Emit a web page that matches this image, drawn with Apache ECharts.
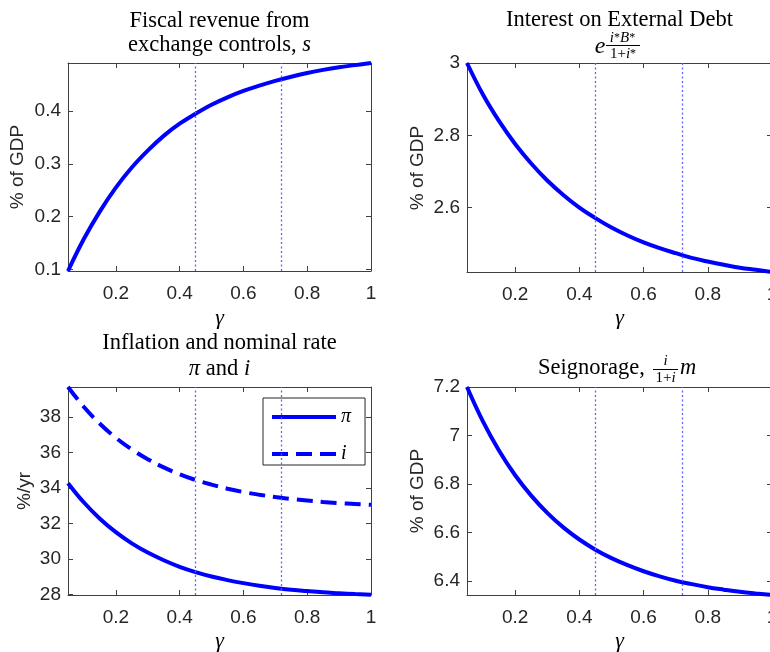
<!DOCTYPE html>
<html>
<head>
<meta charset="utf-8">
<script src="https://cdn.jsdelivr.net/npm/echarts@6/dist/echarts.min.js"></script>
<style>html,body{margin:0;padding:0;background:#fff;}#c{width:770px;height:652px;}</style>
</head>
<body>
<div id="c"></div>
<script>
// ---- data ----
const gamma = [0.05,0.10,0.15,0.20,0.25,0.30,0.35,0.40,0.45,0.50,0.55,0.60,0.65,0.70,0.75,0.80,0.85,0.90,0.95,1.00];
const fiscalRevenue = [0.097,0.158,0.210,0.255,0.293,0.325,0.353,0.376,0.395,0.412,0.426,0.438,0.448,0.457,0.465,0.472,0.478,0.483,0.487,0.491];
const interestDebt = [3.000,2.912,2.839,2.776,2.722,2.675,2.635,2.600,2.571,2.545,2.523,2.504,2.488,2.474,2.461,2.451,2.442,2.434,2.428,2.422];
const inflation = [34.27,33.18,32.27,31.51,30.88,30.36,29.93,29.56,29.26,29.01,28.81,28.64,28.49,28.37,28.27,28.19,28.12,28.07,28.02,27.98];
const nominalRate = [39.69,38.56,37.62,36.83,36.17,35.62,35.16,34.77,34.45,34.19,33.96,33.77,33.62,33.49,33.38,33.29,33.21,33.15,33.10,33.05];
const seigniorage = [7.200,7.057,6.937,6.836,6.752,6.681,6.621,6.571,6.529,6.494,6.465,6.440,6.419,6.401,6.387,6.374,6.364,6.355,6.348,6.342];
const xTicks = [0.2,0.4,0.6,0.8,1];
const yTicksFiscal = [0.1,0.2,0.3,0.4];
const yTicksInterest = [2.6,2.8,3];
const yTicksRates = [28,30,32,34,36,38];
const yTicksSeign = [6.4,6.6,6.8,7,7.2];
const markerGammas = [0.45,0.72];
const yRanges = [[0.097,0.491],[2.422,3.0],[27.97,39.69],[6.342,7.2]];

const AX = '#404040';
const BLUE = '#0000ff';
const SANS = 'Liberation Sans';
const SERIF = 'Liberation Serif';

const grids = [
  {left:68, top:63, width:303, height:208},
  {left:467, top:63, width:305, height:209},
  {left:68, top:387, width:303, height:208},
  {left:467, top:387, width:305, height:208}
];
const yTickSets = [yTicksFiscal, yTicksInterest, yTicksRates, yTicksSeign];

const xAxes = [], yAxes = [];
grids.forEach((g, k) => {
  const baseX = {
    type:'value', gridIndex:k, min:0.05, max:1,
    axisLine:{show:true, onZero:false, lineStyle:{color:AX, width:1}},
    splitLine:{show:false}
  };
  xAxes.push(Object.assign({}, baseX, {
    position:'bottom',
    axisTick:{show:true, inside:true, length:5, customValues:xTicks, lineStyle:{color:AX}},
    axisLabel:{show:true, customValues:xTicks, margin:13, fontFamily:SANS, fontSize:19, color:'#262626', hideOverlap:false}
  }));
  xAxes.push(Object.assign({}, baseX, {
    position:'top',
    axisTick:{show:true, inside:true, length:5, customValues:xTicks, lineStyle:{color:AX}},
    axisLabel:{show:false}
  }));
  const baseY = {
    type:'value', gridIndex:k, min:yRanges[k][0], max:yRanges[k][1],
    axisLine:{show:true, onZero:false, lineStyle:{color:AX, width:1}},
    splitLine:{show:false}
  };
  yAxes.push(Object.assign({}, baseY, {
    position:'left',
    axisTick:{show:true, inside:true, length:5, customValues:yTickSets[k], lineStyle:{color:AX}},
    axisLabel:{show:true, customValues:yTickSets[k], margin:7, fontFamily:SANS, fontSize:19, color:'#262626'}
  }));
  yAxes.push(Object.assign({}, baseY, {
    position:'right',
    axisTick:{show:true, inside:true, length:5, customValues:yTickSets[k], lineStyle:{color:AX}},
    axisLabel:{show:false}
  }));
});

function pairs(arr){ return gamma.map((g,i)=>[g, arr[i]]); }
function marks(){
  return {
    silent:true, symbol:['none','none'], label:{show:false},
    lineStyle:{color:'#6262ff', width:1.3, type:[2,2.5], opacity:1},
    data: markerGammas.map(v=>({xAxis:v}))
  };
}
function lineSeries(k, name, arr, dashed){
  return {
    type:'line', name:name, xAxisIndex:2*k, yAxisIndex:2*k,
    data:pairs(arr), showSymbol:false, symbol:'none', smooth:0.4,
    lineStyle:{color:BLUE, width:4, type: dashed ? [16,8] : 'solid', cap:'butt'},
    itemStyle:{color:BLUE},
    markLine: marks(), z:3, animation:false
  };
}

const series = [
  lineSeries(0, 's', fiscalRevenue, false),
  lineSeries(1, 'debt', interestDebt, false),
  lineSeries(2, 'π', inflation, false),
  Object.assign(lineSeries(2, 'i', nominalRate, true), {markLine:undefined}),
  lineSeries(3, 'seign', seigniorage, false)
];

function txt(x, y, text, opts){
  return {type:'text', x:x, y:y, silent:true,
    style:Object.assign({text:text, fill:'#000', fontFamily:SERIF, fontSize:22.5, align:'center', verticalAlign:'middle'}, opts||{})};
}
function hline(x1, x2, y){
  return {type:'line', silent:true, shape:{x1:x1, y1:y, x2:x2, y2:y}, style:{stroke:'#000', lineWidth:1}};
}

const graphic = [
  // titles
  txt(219.5, 21, 'Fiscal revenue from'),
  {type:'text', x:219.5, y:45, silent:true, style:{text:'{n|exchange controls, }{i|s}', align:'center', verticalAlign:'middle', fill:'#000',
    rich:{n:{fontFamily:SERIF, fontSize:22.5}, i:{fontFamily:SERIF, fontSize:22.5, fontStyle:'italic'}}}},
  txt(619.5, 20, 'Interest on External Debt'),
  txt(600, 47, 'e', {fontStyle:'italic', fontSize:24}),
  {type:'text', x:622.5, y:38, silent:true, style:{text:'{i|i}{s|*}{i|B}{s|*}', align:'center', verticalAlign:'middle', fill:'#000',
    rich:{i:{fontFamily:SERIF, fontSize:15, fontStyle:'italic'}, s:{fontFamily:SERIF, fontSize:12}}}},
  hline(606, 640, 45.5),
  {type:'text', x:623, y:54, silent:true, style:{text:'{n|1+}{i|i}{s|*}', align:'center', verticalAlign:'middle', fill:'#000',
    rich:{n:{fontFamily:SERIF, fontSize:15}, i:{fontFamily:SERIF, fontSize:15, fontStyle:'italic'}, s:{fontFamily:SERIF, fontSize:12}}}},
  txt(219.5, 343, 'Inflation and nominal rate'),
  {type:'text', x:219.5, y:369, silent:true, style:{text:'{i|π}{n| and }{i|i}', align:'center', verticalAlign:'middle', fill:'#000',
    rich:{n:{fontFamily:SERIF, fontSize:22.5}, i:{fontFamily:SERIF, fontSize:22.5, fontStyle:'italic'}}}},
  txt(538, 368, 'Seignorage,', {align:'left'}),
  txt(665.5, 361, 'i', {fontStyle:'italic', fontSize:15}),
  hline(653, 678, 369.5),
  {type:'text', x:665.5, y:378, silent:true, style:{text:'{n|1+}{i|i}', align:'center', verticalAlign:'middle', fill:'#000',
    rich:{n:{fontFamily:SERIF, fontSize:15}, i:{fontFamily:SERIF, fontSize:15, fontStyle:'italic'}}}},
  txt(680, 368, 'm', {align:'left', fontStyle:'italic'}),
  // x-axis names
  txt(219.5, 318, 'γ', {fontStyle:'italic', fontSize:22}),
  txt(619.5, 318, 'γ', {fontStyle:'italic', fontSize:22}),
  txt(219.5, 641, 'γ', {fontStyle:'italic', fontSize:22}),
  txt(619.5, 641, 'γ', {fontStyle:'italic', fontSize:22}),
  // y-axis names
  {type:'text', x:18, y:167, rotation:Math.PI/2, silent:true, style:{text:'% of GDP', fontFamily:SANS, fontSize:19, fill:'#262626', align:'center', verticalAlign:'middle'}},
  {type:'text', x:418, y:168, rotation:Math.PI/2, silent:true, style:{text:'% of GDP', fontFamily:SANS, fontSize:19, fill:'#262626', align:'center', verticalAlign:'middle'}},
  {type:'text', x:25, y:491, rotation:Math.PI/2, silent:true, style:{text:'%/yr', fontFamily:SANS, fontSize:19, fill:'#262626', align:'center', verticalAlign:'middle'}},
  {type:'text', x:418, y:491, rotation:Math.PI/2, silent:true, style:{text:'% of GDP', fontFamily:SANS, fontSize:19, fill:'#262626', align:'center', verticalAlign:'middle'}}
];

const chart = echarts.init(document.getElementById('c'), null, {renderer:'canvas'});
chart.setOption({
  animation:false,
  backgroundColor:'#fff',
  grid: grids.map(g=>Object.assign({containLabel:false, outerBoundsMode:'none'}, g)),
  xAxis: xAxes,
  yAxis: yAxes,
  legend: {
    data:['π','i'], orient:'vertical', left:263, top:398,
    padding:[9,14,1,7], itemGap:17, itemWidth:64, itemHeight:12,
    backgroundColor:'#fff', borderColor:'#262626', borderWidth:1, borderRadius:0,
    textStyle:{fontFamily:SERIF, fontSize:20, lineHeight:12, fontStyle:'italic', color:'#000', padding:[0,0,0,0]},
    itemStyle:{opacity:0},
    lineStyle:{width:4}
  },
  series: series,
  graphic: graphic
});
</script>
</body>
</html>
